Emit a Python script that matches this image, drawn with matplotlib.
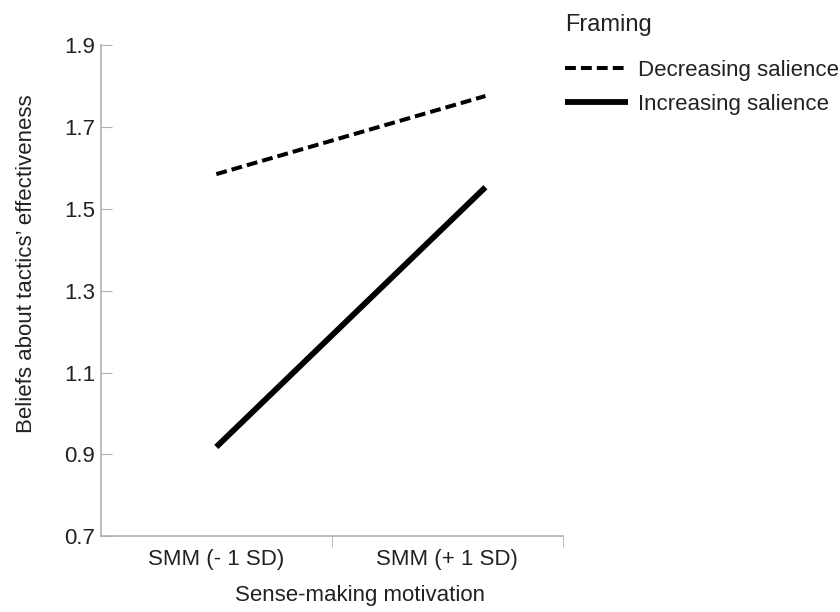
import matplotlib.pyplot as plt

plt.rcParams['font.family'] = ['Liberation Sans', 'DejaVu Sans']

categories = ["SMM (- 1 SD)", "SMM (+ 1 SD)"]
cat_pos = [0.5, 1.5]
# x end points of the lines as drawn in the source figure
line_x = [0.5, 1.665]
decreasing = [1.585, 1.776]
increasing = [0.918, 1.553]
yticks = [0.7, 0.9, 1.1, 1.3, 1.5, 1.7, 1.9]

fig = plt.figure(figsize=(8.4, 6.12), dpi=100)
ax = fig.add_axes([0.120, 0.124, 0.550, 0.802])

ax.plot(line_x, decreasing, color="black", lw=2.9, ls=(0, (2.7, 1.25)),
        label="Decreasing salience")
ax.plot(line_x, increasing, color="black", lw=4.2, solid_capstyle="butt",
        label="Increasing salience")

ax.set_xlim(0, 2)
ax.set_ylim(0.7, 1.9)
ax.set_yticks(yticks)
ax.set_yticklabels([f"{v:.1f}" for v in yticks])
ax.set_xticks(cat_pos)
ax.set_xticklabels(categories)
ax.set_xticks([1.0, 2.0], minor=True)
ax.tick_params(axis="x", which="major", length=0, labelsize=16, pad=9,
               labelcolor="#222222")
ax.tick_params(axis="x", which="minor", length=8, color="#b0b0b0", direction="out")
ax.tick_params(axis="y", length=8, color="#b0b0b0", direction="in", labelsize=16,
               pad=4, labelcolor="#222222")

for s in ["top", "right"]:
    ax.spines[s].set_visible(False)
for s in ["left", "bottom"]:
    ax.spines[s].set_color("#b0b0b0")
    ax.spines[s].set_linewidth(1.2)

ax.set_xlabel("Sense-making motivation", fontsize=16, color="#222222", va="top")
ax.xaxis.set_label_coords(0.56, -0.100)
ax.set_ylabel("Beliefs about tactics’ effectiveness", fontsize=16, color="#222222",
              va="center")
ax.yaxis.set_label_coords(-0.160, 0.556)

fig.text(565 / 840, 1 - 25 / 612, "Framing", fontsize=17, color="#222222",
         ha="left", va="center")
leg = ax.legend(loc="upper left", bbox_to_anchor=(565 / 840, 1 - 60 / 612),
                bbox_transform=fig.transFigure, frameon=False, fontsize=16,
                handlelength=2.85, handletextpad=0.42, labelspacing=0.58,
                borderpad=0, borderaxespad=0)
for t in leg.get_texts():
    t.set_color("#222222")

fig.savefig("out.png", dpi=100)
